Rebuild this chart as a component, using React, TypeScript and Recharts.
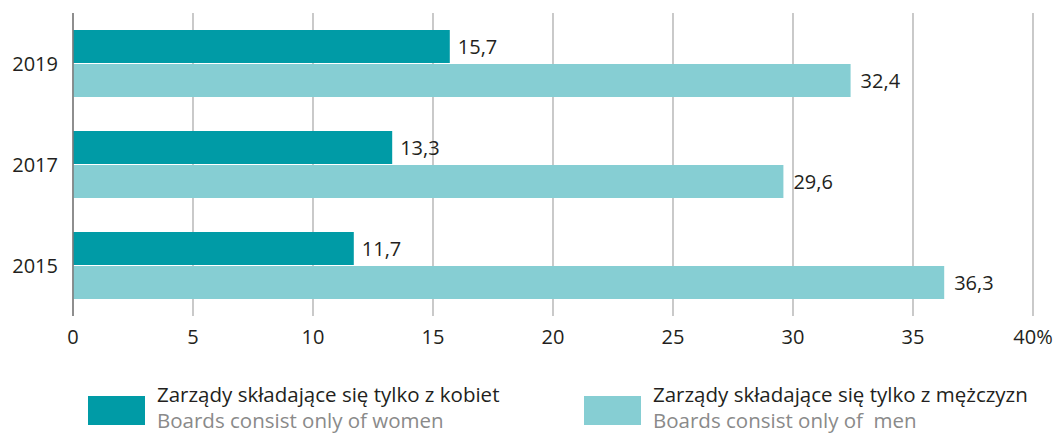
import { BarChart, Bar, XAxis, YAxis, CartesianGrid, LabelList } from 'recharts';

const years = ['2019', '2017', '2015'];
const womenOnly = [15.7, 13.3, 11.7];
const menOnly = [32.4, 29.6, 36.3];
const xTicks = [0, 5, 10, 15, 20, 25, 30, 35, 40];

const DARK = '#009ba6';
const LIGHT = '#86ced3';
const TEXT = '#231f20';
const FONT = '"Open Sans", sans-serif';

const data = years.map((year, i) => ({ year, women: womenOnly[i], men: menOnly[i] }));

const fmt = (v: any) => String(v).replace('.', ',');

function LegendItem({ color, pl, en, left }: { color: string; pl: string; en: string; left: number }) {
  return (
    <div style={{ position: 'absolute', left, top: 381, display: 'flex', fontFamily: FONT }}>
      <div style={{ width: 57, height: 29, background: color, marginTop: 15, marginRight: 12 }} />
      <div style={{ lineHeight: '26px', fontSize: 20.5, whiteSpace: 'pre' }}>
        <div style={{ color: TEXT }}>{pl}</div>
        <div style={{ color: '#8a8a8a' }}>{en}</div>
      </div>
    </div>
  );
}

export default function App() {
  return (
    <div style={{ position: 'absolute', left: 0, top: 0, width: 1064, height: 433, overflow: 'hidden', background: '#fff' }}>
      <BarChart
        width={1064}
        height={360}
        data={data}
        layout="vertical"
        margin={{ top: 13, right: 31, bottom: 0, left: 0 }}
        barSize={33}
        barGap={1}
      >
        <CartesianGrid horizontal={false} stroke="#a6a6a6" strokeWidth={1.2} />
        <XAxis
          type="number"
          domain={[0, 40]}
          ticks={xTicks}
          interval={0}
          axisLine={false}
          tickLine={false}
          tickMargin={8}
          height={44}
          tickFormatter={(v: number) => (v === 40 ? '40%' : String(v))}
          tick={{ fill: TEXT, fontSize: 20, fontFamily: FONT }}
        />
        <YAxis
          type="category"
          dataKey="year"
          width={73}
          axisLine={{ stroke: '#7a7a7a', strokeWidth: 1.5 }}
          tickLine={false}
          tickMargin={9}
          tick={{ fill: TEXT, fontSize: 20, fontFamily: FONT }}
        />
        <Bar dataKey="women" fill={DARK} isAnimationActive={false}>
          <LabelList dataKey="women" position="right" offset={8} formatter={fmt} fill={TEXT} fontSize={20} fontFamily={FONT} />
        </Bar>
        <Bar dataKey="men" fill={LIGHT} isAnimationActive={false}>
          <LabelList dataKey="men" position="right" offset={10} formatter={fmt} fill={TEXT} fontSize={20} fontFamily={FONT} />
        </Bar>
      </BarChart>
      <LegendItem color={DARK} left={88} pl="Zarządy składające się tylko z kobiet" en="Boards consist only of women" />
      <LegendItem color={LIGHT} left={584} pl="Zarządy składające się tylko z mężczyzn" en="Boards consist only of  men" />
    </div>
  );
}
